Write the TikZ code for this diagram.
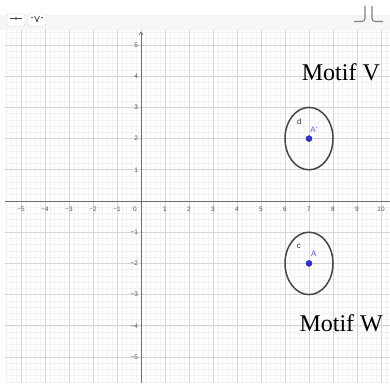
\documentclass[tikz,border=0pt]{standalone}
\usepackage{fontspec}
\setmainfont{Liberation Serif}
\newfontfamily\ggsans{Liberation Sans}
\usetikzlibrary{arrows.meta}
\definecolor{minorc}{RGB}{242,242,242}
\definecolor{majorc}{RGB}{212,212,212}
\definecolor{axisc}{RGB}{110,110,110}
\definecolor{tbgray}{RGB}{246,246,246}
\definecolor{ptblue}{RGB}{45,45,225}
\definecolor{circc}{RGB}{70,70,70}
\definecolor{ticklab}{RGB}{80,80,80}
\tikzset{
  minorgrid/.style={draw=minorc, line width=0.6pt},
  majorgrid/.style={draw=majorc, line width=0.9pt},
  axisline/.style={draw=axisc, line width=0.8pt},
  ticktext/.style={font=\ggsans\fontsize{6.5}{7}\selectfont, text=ticklab, inner sep=0pt},
  circ/.style={draw=circc, line width=1.5pt},
  pt/.style={circle, fill=ptblue, draw=ptblue!70!black, line width=0.4pt, minimum size=6pt, inner sep=0pt},
  ptlab/.style={font=\ggsans\fontsize{8}{9}\selectfont, text=ptblue!80, inner sep=0pt},
  objlab/.style={font=\ggsans\fontsize{8}{9}\selectfont, text=black!80, inner sep=0pt},
  motif/.style={font=\fontsize{24}{26}\selectfont, anchor=base west, inner sep=0pt},
  btn/.style={draw=black!18, fill=white, rounded corners=2pt, minimum width=18pt, minimum height=12pt, inner sep=0pt},
  icon/.style={draw=black!50, line width=1.1pt},
}
\begin{document}
\begin{tikzpicture}[x=1pt,y=1pt]
\useasboundingbox (0,0) rectangle (390,383);
\fill[white] (0,0) rectangle (390,383);
% toolbar
\fill[tbgray] (0,353) rectangle (390,368);
\node[btn] (b1) at (16,363) {};
\node[btn] (b2) at (37,363) {};
\draw[line width=0.8pt, black!70] ([xshift=-6pt,yshift=1.5pt]b1.center) -- ([xshift=6pt,yshift=1.5pt]b1.center);
\fill[black!70] ([yshift=1.5pt]b1.center) circle (1.4pt);
\draw[line width=0.8pt, black!70] ([xshift=-2.5pt,yshift=4pt]b2.center) -- ([yshift=-1pt]b2.center) -- ([xshift=2.5pt,yshift=4pt]b2.center);
\fill[black!70] ([xshift=-5pt,yshift=2.5pt]b2.center) circle (0.8pt);
\fill[black!70] ([xshift=5pt,yshift=2.5pt]b2.center) circle (0.8pt);
\fill[black!70] ([yshift=-1pt]b2.center) circle (1.1pt);
\draw[icon, rounded corners=3pt] (365,377) -- (365,361.5) -- (354,361.5);
\draw[icon, rounded corners=3pt] (372,377) -- (372,361.5) -- (383,361.5);
% graphics view
\begin{scope}[shift={(141pt,182pt)}, x=24pt, y=31.2pt]
  \begin{scope}
    \clip (-5.667,-5.833) rectangle (10.375,5.481);
    \draw[minorgrid, xstep=0.2, ystep=0.2] (-6,-6) grid (11,6);
    \draw[majorgrid, xstep=1, ystep=1] (-6,-6) grid (11,6);
  \end{scope}
  \coordinate (xl) at (-5.667,0);
  \coordinate (xr) at (10.375,0);
  \coordinate (yb) at (0,-5.833);
  \coordinate (yt) at (0,5.43);
  \draw[axisline] (xl) -- (xr);
  \draw[axisline, -{Straight Barb[length=2.5pt,width=4pt]}] (yb) -- (yt);
  % tick labels
  \foreach \i/\t in {-5/−5,-4/−4,-3/−3,-2/−2,-1/−1,1/1,2/2,3/3,4/4,5/5,6/6,7/7,8/8,9/9,10/10}
    \node[ticktext] (xt\i) at (\i,-0.26) {\t};
  \node[ticktext] (o) at (-0.25,-0.26) {0};
  \foreach \i/\t in {-5/−5,-4/−4,-3/−3,-2/−2,-1/−1,1/1,2/2,3/3,4/4,5/5}
    \node[ticktext, anchor=east] (yt\i) at (-0.12,\i) {\t};
  % circles
  \draw[circ] (7,2) circle [x radius=1, y radius=1];
  \draw[circ] (7,-2) circle [x radius=1, y radius=1];
  \node[pt] (Ap) at (7,2) {};
  \node[pt] (A) at (7,-2) {};
  \node[ptlab] (lAp) at (7.2,2.29) {A'};
  \node[ptlab] (lA) at (7.2,-1.68) {A};
  \node[objlab] (ld) at (6.6,2.54) {d};
  \node[objlab] (lc) at (6.58,-1.46) {c};
\end{scope}
\node[motif] (mv) at (301.7,302.3) {Motif V};
\node[motif] (mw) at (299.3,52) {Motif W};
\end{tikzpicture}
\end{document}
